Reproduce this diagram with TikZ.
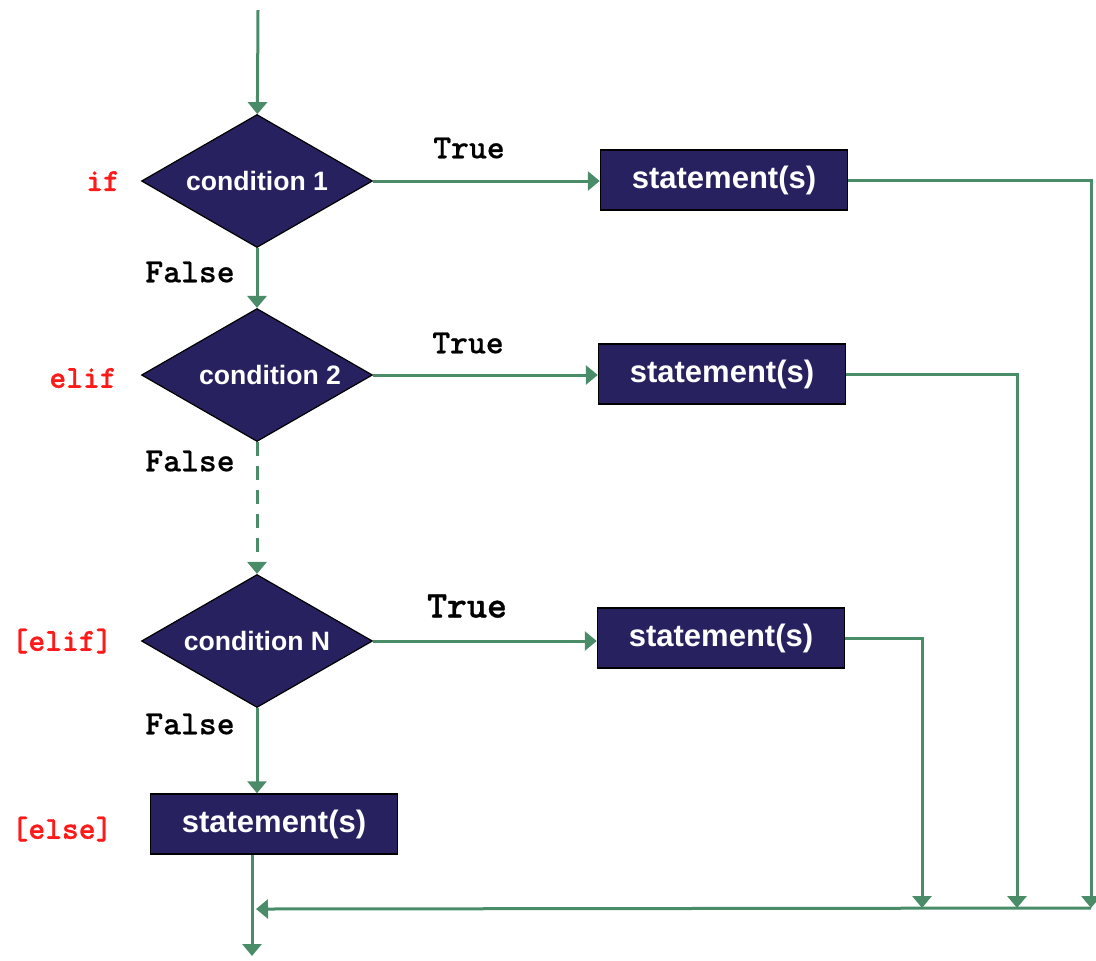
\documentclass[tikz,border=0pt]{standalone}
\usepackage{fontspec}
\setmainfont{Liberation Sans}
\newfontfamily\kwfont{lmmonolt10-bold.otf}[FakeBold=0.9]
\newfontfamily\lblfont{lmmonolt10-bold.otf}[FakeBold=0.4]
\usepackage{tikz}
\usetikzlibrary{arrows.meta,shapes.geometric}

\definecolor{navy}{HTML}{27215F}
\definecolor{flowgreen}{HTML}{4A8C68}
\definecolor{kwred}{HTML}{FF1A1A}

\begin{document}
\begin{tikzpicture}[x=0.5pt, y=-0.5pt,
  cond/.style={diamond, aspect=1.74, draw=black, line width=0.6pt, fill=navy, text=white,
               font=\bfseries\fontsize{13.3}{15}\selectfont,
               minimum width=115.5pt, minimum height=66.5pt, inner sep=0pt},
  stmt/.style={rectangle, draw=black, line width=0.75pt, fill=navy, text=white,
               font=\bfseries\fontsize{15.5}{18}\selectfont,
               minimum width=123.5pt, minimum height=30pt, inner sep=0pt},
  kw/.style={text=kwred, font=\kwfont\fontsize{16}{18}\selectfont},
  lbl/.style={font=\lblfont\fontsize{17}{19}\selectfont},
  link/.style={draw=flowgreen, line width=1.5pt},
  arr/.style={link, -{Triangle[length=6pt,width=9.5pt]}}
]
\useasboundingbox (0,0) rectangle (1096,960);

% decisions
\node[cond] (c1) at (257,181) {condition 1};
\node[cond] (c2) at (257,375) {\hspace*{13pt}condition 2};
\node[cond] (cN) at (257,641) {condition N};

% branches
\node[stmt] (s1) at (724,180) {statement(s)};
\node[stmt] (s2) at (722,374) {statement(s)};
\node[stmt] (s3) at (721,638) {statement(s)};
\node[stmt] (s4) at (274,824) {statement(s)};

% keywords
\node[kw] (kif) at (103,181) {if};
\node[kw] (kelif) at (83,378) {elif};
\node[kw] (kelifN) at (62,641) {[elif]};
\node[kw] (kelse) at (62,829) {[else]};

% edge labels
\node[lbl] (t1) at (469,148) {True};
\node[lbl] (t2) at (468,343) {True};
\node[lbl, font=\kwfont\fontsize{19}{21}\selectfont] (t3) at (467,606) {True};
\node[lbl] (f1) at (190,272) {False};
\node[lbl] (f2) at (190,461) {False};
\node[lbl] (f3) at (190,724) {False};

\coordinate (start) at (258,10);
\coordinate (r1) at (1091,908);
\coordinate (r2) at (1017,908);
\coordinate (r3) at (922,908);
\coordinate (join) at (256,909);
\coordinate (finish) at (252,956);

\draw[arr] (start) -- (c1);
\draw[arr] (c1) -- (c2);
\draw[arr, dash pattern=on 7pt off 5pt] (c2) -- (cN);
\draw[arr] (cN.south) -- (cN.south |- s4.north);

\draw[arr] (c1.east) -- (c1.east -| s1.west);
\draw[arr] (c2.east) -- (c2.east -| s2.west);
\draw[arr] (cN.east) -- (cN.east -| s3.west);

\draw[arr] (s1.east) -| (r1);
\draw[arr] (s2.east) -| (r2);
\draw[arr] (s3.east) -| (r3);
\draw[arr] (r1) -- (join);
\draw[arr] (s4.south -| finish) -- (finish);
\end{tikzpicture}
\end{document}
